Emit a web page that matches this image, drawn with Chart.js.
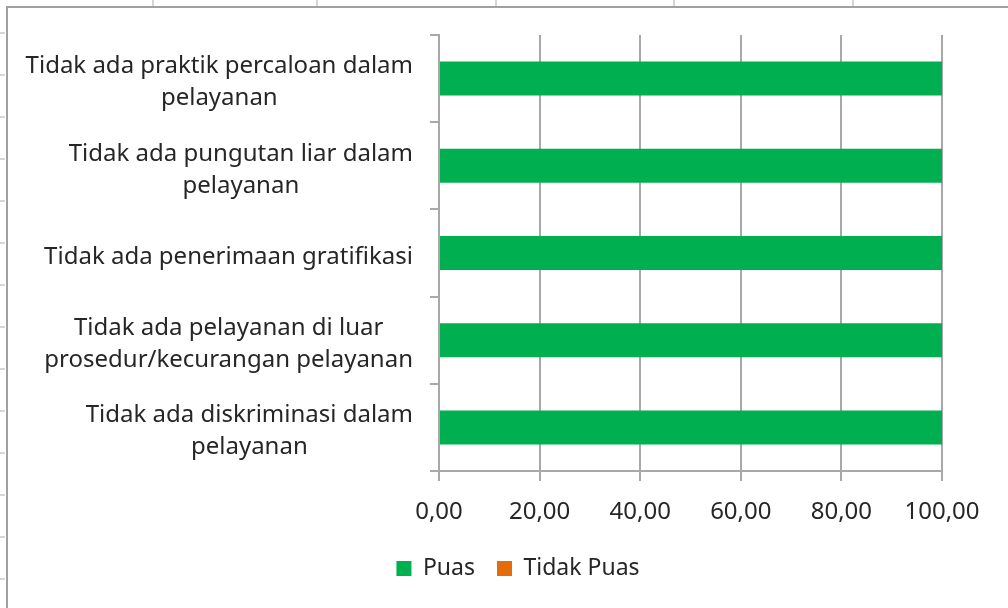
<!DOCTYPE html>
<html>
<head>
<meta charset="utf-8">
<script src="https://cdn.jsdelivr.net/npm/chart.js@4.4.1/dist/chart.umd.min.js"></script>
<style>
  html, body { margin: 0; padding: 0; background: #fff; }
  #wrap { position: absolute; left: 0; top: 0; width: 1008px; height: 608px; }
</style>
</head>
<body>
<div id="wrap"><canvas id="chart" width="1008" height="608"></canvas></div>
<script>
// categories, each one split into the lines shown on the axis
var categories = [
  ["Tidak ada praktik percaloan dalam", "pelayanan"],
  ["Tidak ada pungutan liar dalam", "pelayanan"],
  ["Tidak ada penerimaan gratifikasi"],
  ["Tidak ada pelayanan di luar", "prosedur/kecurangan pelayanan"],
  ["Tidak ada diskriminasi dalam", "pelayanan"]
];
var puas = [100, 100, 100, 100, 100];
var tidakPuas = [0, 0, 0, 0, 0];
var xTicks = [0, 20, 40, 60, 80, 100];

var FONT = "'Noto Sans'";
var TEXT = "#262626";
var GRID = "#a8a8a8";

function fmt(v) {
  return v.toFixed(2).replace(".", ",");
}

// the sheet behind the chart: frame and the column / row marks
var sheetPlugin = {
  id: "sheet",
  beforeDraw: function (chart) {
    var ctx = chart.ctx;
    ctx.save();
    ctx.fillStyle = "#fff";
    ctx.fillRect(0, 0, chart.width, chart.height);
    ctx.strokeStyle = "#d6d6d6";
    ctx.lineWidth = 2;
    [153, 317, 496, 674, 853].forEach(function (x) {
      ctx.beginPath(); ctx.moveTo(x, 0); ctx.lineTo(x, 6); ctx.stroke();
    });
    for (var y = 33; y < 608; y += 42) {
      ctx.beginPath(); ctx.moveTo(0, y); ctx.lineTo(5, y); ctx.stroke();
    }
    ctx.strokeStyle = "#a0a0a0";
    ctx.beginPath();
    ctx.moveTo(7, 608); ctx.lineTo(7, 7); ctx.lineTo(1008, 7);
    ctx.stroke();
    ctx.restore();
  },
  afterDraw: function (chart) {
    // category labels: block right aligned, lines centred in the block
    var ctx = chart.ctx;
    var yScale = chart.scales.y;
    var right = 413;
    var lineH = 32;
    ctx.save();
    ctx.font = "24px " + FONT;
    ctx.fillStyle = TEXT;
    ctx.textAlign = "center";
    ctx.textBaseline = "middle";
    categories.forEach(function (lines, i) {
      var w = 0;
      lines.forEach(function (l) { w = Math.max(w, ctx.measureText(l).width); });
      var cx = right - w / 2;
      var cy = yScale.getPixelForValue(i) + 4;
      var y0 = cy - (lines.length - 1) * lineH / 2;
      lines.forEach(function (l, k) { ctx.fillText(l, cx, y0 + k * lineH); });
    });
    ctx.restore();
  }
};

new Chart(document.getElementById("chart"), {
  type: "bar",
  data: {
    labels: categories,
    datasets: [
      { label: "Puas", data: puas, backgroundColor: "#00b050" },
      { label: "Tidak Puas", data: tidakPuas, backgroundColor: "#e46c0a" }
    ]
  },
  options: {
    indexAxis: "y",
    responsive: false,
    animation: false,
    categoryPercentage: 1,
    barPercentage: 0.39,
    layout: { padding: { left: 94, right: 66, top: 35, bottom: 18 } },
    plugins: {
      tooltip: { enabled: false },
      legend: {
        position: "bottom",
        labels: {
          font: { family: "Noto Sans", size: 23 },
          color: TEXT,
          boxWidth: 15,
          boxHeight: 15,
          padding: 22
        }
      }
    },
    scales: {
      x: {
        stacked: true,
        min: 0,
        max: 100,
        afterBuildTicks: function (s) { s.ticks = xTicks.map(function (v) { return { value: v }; }); },
        afterFit: function (s) { s.height = 64; },
        border: { color: GRID, width: 2 },
        grid: { color: GRID, lineWidth: 2, tickLength: 10 },
        ticks: {
          font: { family: "Noto Sans", size: 24 },
          color: TEXT,
          padding: 17,
          maxRotation: 0,
          callback: function (v) { return fmt(v); }
        }
      },
      y: {
        stacked: true,
        afterFit: function (s) { s.width = 439 - 94; },
        border: { color: GRID, width: 2 },
        grid: { color: GRID, lineWidth: 2, tickLength: 9, offset: true, drawOnChartArea: false },
        ticks: { display: false }
      }
    }
  },
  plugins: [sheetPlugin]
});
</script>
</body>
</html>
